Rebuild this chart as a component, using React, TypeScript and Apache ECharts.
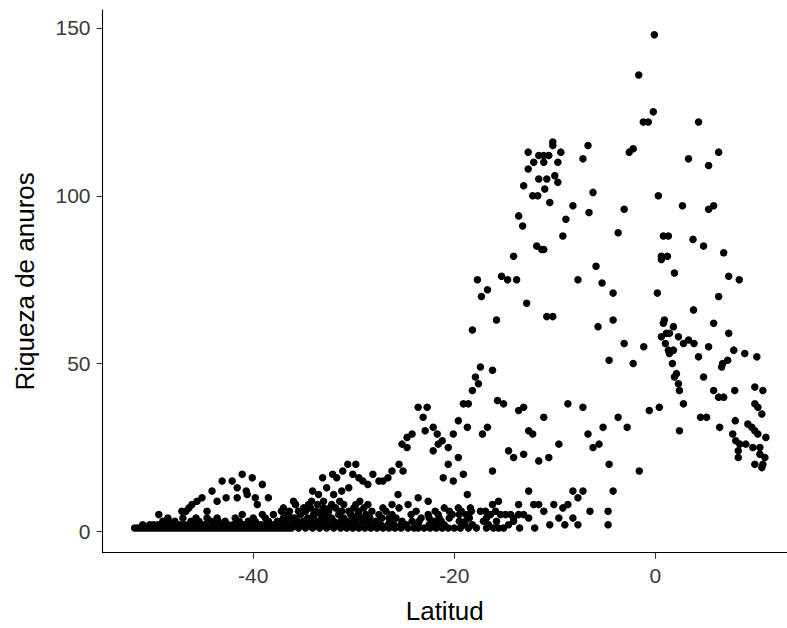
import React, { useEffect, useRef } from "react";
import * as echarts from "echarts";

const xTicks = [-40, -20, 0];
const yTicks = [0, 50, 100, 150];

// Rows of [richness, latitudes...] for the dense southern band (-52 to -36)
const southBandRows: [number, number[]][] = [
  [1, [-51.8, -51.5, -51.2, -50.9, -50.6, -50.3, -50.0, -49.7, -49.4, -49.1, -48.8, -48.5, -48.2, -47.9, -47.6, -47.3, -47.0, -46.7, -46.4, -46.1, -45.8, -45.5, -45.2, -44.9, -44.6, -44.3, -44.0, -43.7, -43.4, -43.1, -42.8, -42.5, -42.2, -41.9, -41.6, -41.3, -41.0, -40.7, -40.4, -40.1, -39.8, -39.5, -39.2, -38.9, -38.6, -38.3, -38.0, -37.7, -37.4, -37.1, -36.8, -36.5, -36.2]],
  [2, [-51.0, -50.3, -49.9, -49.5, -49.1, -48.7, -48.0, -47.7, -47.3, -46.9, -46.5, -46.0, -45.5, -45.1, -44.8, -44.0, -43.6, -43.2, -42.5, -42.0, -41.8, -41.0, -40.2, -39.5, -39.2, -38.8, -38.4, -38.0, -37.7, -37.3, -36.9, -36.5, -35.8]],
  [3, [-49.0, -48.4, -47.8, -46.2, -45.4, -44.2, -43.5, -42.8, -41.4, -40.5, -39.8, -38.5, -37.6, -37.2, -36.8, -36.0]],
  [4, [-48.5, -47.0, -45.7, -44.6, -43.6, -41.8, -40.0, -38.8, -37.0, -36.2]],
  [5, [-49.4, -41.1, -39.1, -38.0, -36.6]],
  [6, [-47.1, -46.7, -44.6, -37.2, -36.4]],
  [7, [-46.4, -37.0]],
  [8, [-46.1, -39.6, -35.8]],
  [9, [-45.6, -43.6, -36.0]],
  [10, [-45.1, -42.7, -41.6, -39.8, -38.5]],
  [11, [-40.6]],
  [12, [-44.1, -40.7]],
  [13, [-41.6]],
  [14, [-39.1]],
  [15, [-43.1, -42.1]],
  [16, [-40.1]],
  [17, [-41.1]],
];

// Rows for the central band (-36 to -17)
const centralBandRows: [number, number[]][] = [
  [1, [-35.5, -34.8, -34.1, -33.4, -32.7, -32.0, -31.3, -30.7, -30.1, -29.5, -28.9, -28.3, -27.7, -27.1, -26.5, -25.9, -25.3, -24.6, -24.0, -23.6, -23.0, -22.4, -21.8, -21.2, -20.6, -20.0, -19.4, -18.6, -17.8, -16.8]],
  [2, [-35.2, -34.5, -33.8, -33.0, -32.4, -31.8, -30.9, -30.2, -29.5, -28.7, -28.0, -27.3, -26.6, -26.0, -25.3, -24.8, -23.6, -22.5, -21.8, -21.0, -19.0, -18.2]],
  [3, [-35.6, -35.0, -34.2, -33.5, -32.8, -32.0, -31.3, -30.5, -29.8, -29.0, -28.5, -27.8, -26.4, -25.2, -24.2, -23.5, -22.0, -21.3, -19.5, -18.9]],
  [4, [-35.9, -34.6, -34.0, -33.0, -32.2, -31.0, -30.0, -29.2, -28.4, -27.2, -26.5, -25.8, -23.3, -22.5, -21.5, -20.5, -18.5]],
  [5, [-35.3, -34.0, -33.3, -32.7, -31.5, -30.3, -29.6, -28.8, -27.5, -26.2, -24.3, -22.6, -21.6, -20.2, -19.5, -18.8]],
  [6, [-35.5, -34.8, -33.8, -33.2, -32.5, -31.2, -30.5, -29.5, -28.2, -26.8, -23.8, -21.9, -20.5, -19.3, -18.3]],
  [7, [-35.0, -34.3, -33.0, -32.4, -31.8, -30.0, -29.0, -27.1, -25.5, -21.0, -19.6, -18.4]],
  [8, [-35.8, -34.5, -33.6, -32.2, -31.0, -29.8, -28.6, -26.2, -24.6]],
  [9, [-34.2, -33.0, -31.4, -29.4, -22.6]],
  [10, [-23.6]],
  [11, [-33.5, -32.0, -25.6, -18.7]],
  [12, [-34.1, -31.2]],
  [13, [-32.7, -30.5]],
  [14, [-28.6]],
  [15, [-29.1, -27.5, -27.1, -20.1]],
  [16, [-33.1, -31.7, -29.5, -26.6, -21.1]],
  [17, [-32.1, -30.1, -28.1, -19.1]],
  [18, [-31.1, -26.2, -25.1]],
  [20, [-30.6, -29.8, -25.5, -20.6]],
  [22, [-19.6]],
  [24, [-22.1]],
  [25, [-24.7, -20.6]],
  [26, [-25.2, -21.6]],
  [27, [-21.2]],
  [28, [-24.7]],
  [29, [-24.2, -21.7, -20.1]],
  [30, [-22.9]],
  [31, [-22.1, -18.7]],
  [33, [-19.6]],
  [34, [-23.1]],
  [37, [-23.6, -22.7]],
  [38, [-19.1, -18.6]],
  [42, [-18.2]],
  [46, [-17.9]],
];

// [latitude, richness] for the northern part of the band (-18 to -1)
const northBand: [number, number][] = [
  [-17.4, 6], [-16.9, 6], [-16.4, 5], [-15.9, 6], [-15.4, 5], [-14.9, 5], [-14.4, 5], [-14.1, 4], [-13.6, 5], [-13.1, 5], [-12.6, 4],
  [-17.1, 3], [-16.6, 2], [-16.1, 1], [-15.6, 1], [-15.1, 1], [-14.6, 2], [-14.1, 3], [-16.8, 4], [-15.8, 3],
  [-16.2, 8], [-15.6, 9], [-13.6, 8], [-12.1, 8], [-11.6, 8], [-10.1, 8], [-9.2, 7], [-8.7, 8], [-11.1, 6], [-6.5, 6], [-4.7, 6],
  [-8.2, 4], [-9.6, 4], [-12.0, 1], [-10.5, 2], [-9.0, 2], [-7.7, 2], [-4.7, 2], [-13.5, 1],
  [-12.6, 12], [-8.2, 12], [-7.2, 12], [-7.7, 10], [-4.2, 12],
  [-16.2, 18], [-4.6, 20], [-1.6, 18],
  [-14.6, 24], [-14.1, 22], [-13.1, 23], [-11.6, 21], [-10.6, 22], [-9.6, 26], [-6.2, 25], [-5.6, 26], [-6.7, 29], [-5.2, 31],
  [-3.7, 34], [-2.8, 31], [-16.7, 31], [-17.2, 29], [-12.6, 30], [-12.2, 29], [-11.1, 34], [-15.7, 39], [-15.1, 38], [-13.6, 36],
  [-13.1, 37], [-8.7, 38], [-7.2, 37], [-17.4, 49], [-16.2, 48], [-17.6, 44],
];

// [latitude, richness] for the high-richness tropical cluster (-18 to -2)
const tropicalPeak: [number, number][] = [
  [-10.2, 116], [-10.2, 115], [-6.7, 115], [-12.65, 113], [-11.6, 112], [-11.1, 112], [-10.6, 112], [-9.4, 113], [-7.2, 111],
  [-12.1, 110], [-11.1, 110], [-9.7, 110], [-12.65, 108], [-10.0, 106], [-11.6, 105], [-10.8, 105], [-9.7, 104], [-13.1, 103],
  [-11.0, 102], [-6.2, 101], [-12.2, 100], [-11.7, 100], [-10.5, 98], [-8.2, 97], [-6.6, 95], [-13.6, 94], [-8.9, 93], [-13.2, 91],
  [-3.7, 89], [-9.2, 88], [-11.8, 85], [-11.3, 84], [-11.1, 84], [-14.1, 82], [-5.9, 79], [-15.3, 76], [-14.7, 75], [-13.8, 75],
  [-17.7, 75], [-7.7, 75], [-5.3, 74], [-16.7, 72], [-17.3, 70], [-4.2, 71], [-12.8, 68], [-10.8, 64], [-10.2, 64], [-15.8, 63],
  [-4.2, 63], [-5.7, 61], [-18.2, 60],
];

// [latitude, richness] for the equatorial cluster (-5 to 11)
const equatorCluster: [number, number][] = [
  [-0.1, 148], [-1.65, 136], [-0.2, 125], [-1.2, 122], [-0.7, 122], [4.3, 122], [-2.6, 113], [-2.2, 114], [6.3, 113], [3.3, 111],
  [5.3, 109], [0.3, 100], [-3.1, 96], [2.7, 97], [5.3, 96], [5.8, 97],
  [0.8, 88], [1.3, 88], [3.75, 87], [4.8, 85], [6.8, 83], [0.6, 82], [1.2, 82], [0.6, 81], [1.9, 77], [7.3, 76], [8.35, 75],
  [0.2, 71], [6.3, 70], [3.8, 66], [0.9, 63], [0.8, 62], [1.8, 61], [5.8, 62], [7.3, 59], [0.6, 58], [1.1, 59], [1.4, 59], [2.3, 58],
  [1.0, 56], [2.8, 56], [3.3, 57], [3.85, 56], [-3.1, 56], [-1.15, 55], [5.3, 55], [1.3, 54], [1.8, 54], [1.4, 53], [7.8, 54],
  [8.9, 53], [10.1, 52], [-4.6, 51], [-2.2, 50], [1.7, 50], [4.3, 52], [7.2, 51], [6.7, 50], [6.6, 49],
  [2.1, 47], [1.9, 46], [4.8, 46], [2.3, 44], [2.4, 42], [5.8, 42], [6.3, 40], [6.8, 40], [7.9, 42], [9.9, 43], [10.7, 42],
  [2.8, 38], [9.9, 38], [10.2, 37], [10.6, 35], [0.4, 37], [-0.6, 36], [4.5, 34], [5.1, 34], [7.95, 33], [6.4, 31], [2.4, 30],
  [9.2, 32], [9.6, 31], [9.9, 30], [10.2, 29], [7.7, 29], [8.0, 27], [11.0, 28], [8.4, 26], [9.0, 26], [9.7, 25], [10.4, 25],
  [8.25, 24], [8.25, 22], [10.4, 23], [10.9, 22], [9.9, 20], [10.7, 20], [10.6, 19],
];

const FONT = "'Liberation Sans', Arial, Helvetica, sans-serif";

const rowsToPairs = (rows: [number, number[]][]) =>
  rows.flatMap(([y, xs]) => xs.map((x) => [x, y] as [number, number]));

export default function App() {
  const ref = useRef<HTMLDivElement>(null);

  useEffect(() => {
    if (!ref.current) return;
    const chart = echarts.init(ref.current, undefined, { renderer: "svg" });
    const data = [
      ...rowsToPairs(southBandRows),
      ...rowsToPairs(centralBandRows),
      ...northBand,
      ...tropicalPeak,
      ...equatorCluster,
    ];
    chart.setOption({
      animation: false,
      backgroundColor: "#ffffff",
      grid: { left: 102.5, right: 0, top: 10, bottom: 75.3, containLabel: false, outerBoundsMode: "none" },
      xAxis: {
        type: "value",
        min: -55,
        max: 13.1,
        name: "Latitud",
        nameLocation: "middle",
        nameGap: 45,
        nameTextStyle: { fontSize: 26, color: "#000", fontFamily: FONT },
        axisLine: { show: true, onZero: false, lineStyle: { color: "#000", width: 1.1 } },
        axisTick: { show: true, length: 6, customValues: xTicks, lineStyle: { color: "#333", width: 1.1 } },
        axisLabel: { show: true, customValues: xTicks, margin: 12, fontSize: 21, color: "#3a3a3a", fontFamily: FONT },
        splitLine: { show: false },
      },
      yAxis: {
        type: "value",
        min: -6.35,
        max: 155.35,
        name: "Riqueza de anuros",
        nameLocation: "middle",
        nameGap: 65,
        nameTextStyle: { fontSize: 26, color: "#000", fontFamily: FONT },
        axisLine: { show: true, onZero: false, lineStyle: { color: "#000", width: 1.1 } },
        axisTick: { show: true, length: 6, customValues: yTicks, lineStyle: { color: "#333", width: 1.1 } },
        axisLabel: { show: true, customValues: yTicks, margin: 12, fontSize: 21, color: "#3a3a3a", fontFamily: FONT },
        splitLine: { show: false },
      },
      series: [
        {
          type: "scatter",
          data,
          symbol: "circle",
          symbolSize: 7.5,
          itemStyle: { color: "#000", opacity: 1 },
          silent: true,
        },
      ],
    });
    return () => chart.dispose();
  }, []);

  return (
    <div
      ref={ref}
      style={{ position: "fixed", left: 0, top: 0, width: 787, height: 628, background: "#fff" }}
    />
  );
}
